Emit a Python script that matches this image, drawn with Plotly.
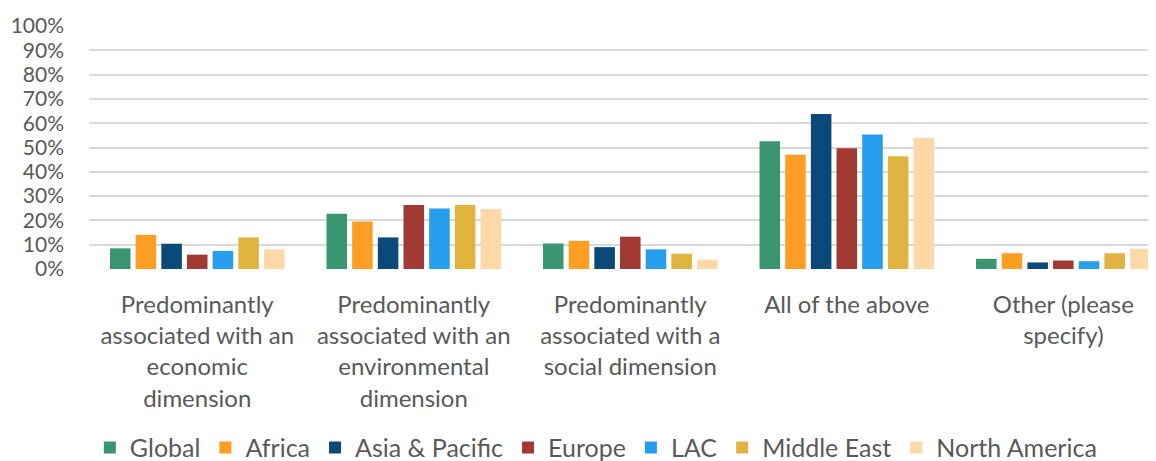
import plotly.graph_objects as go

categories = [
    "Predominantly<br>associated with an<br>economic<br>dimension",
    "Predominantly<br>associated with an<br>environmental<br>dimension",
    "Predominantly<br>associated with a<br>social dimension",
    "All of the above",
    "Other (please<br>specify)",
]

series_names = ["Global", "Africa", "Asia & Pacific", "Europe", "LAC", "Middle East", "North America"]

global_vals = [0.085, 0.227, 0.105, 0.526, 0.042]
africa_vals = [0.140, 0.195, 0.116, 0.470, 0.065]
asia_vals = [0.104, 0.130, 0.090, 0.638, 0.027]
europe_vals = [0.059, 0.263, 0.133, 0.497, 0.035]
lac_vals = [0.074, 0.249, 0.081, 0.553, 0.032]
middle_east_vals = [0.130, 0.263, 0.063, 0.464, 0.065]
north_america_vals = [0.081, 0.247, 0.038, 0.540, 0.083]

series_values = [global_vals, africa_vals, asia_vals, europe_vals, lac_vals,
                 middle_east_vals, north_america_vals]
colors = ["#3A9670", "#FF9E24", "#0B4A78", "#A23A33", "#279DEE", "#E0B43F", "#FED8A6"]

tick_vals = [i / 10 for i in range(11)]
tick_text = [f"{i * 10}%" for i in range(11)]

FONT = "Lato, 'Open Sans', sans-serif"
TXT = "#595959"

fig = go.Figure()
for name, vals, col in zip(series_names, series_values, colors):
    fig.add_trace(go.Bar(
        name=name,
        x=list(range(len(categories))),
        y=vals,
        marker=dict(color=col, line=dict(width=0)),
    ))

fig.update_layout(
    width=1148,
    height=453,
    barmode="group",
    bargap=0.17,
    bargroupgap=0.2,
    plot_bgcolor="white",
    paper_bgcolor="white",
    font=dict(family=FONT, size=24, color=TXT),
    margin=dict(l=81, r=0, t=17.5, b=191.5, autoexpand=False),
    showlegend=True,
    legend=dict(
        orientation="h",
        x=0.475,
        xanchor="center",
        y=-0.736,
        yanchor="middle",
        font=dict(family=FONT, size=25, color=TXT),
        bgcolor="rgba(0,0,0,0)",
    ),
    xaxis=dict(
        tickmode="array",
        tickvals=list(range(len(categories))),
        ticktext=categories,
        range=[-0.5, 4.428],
        showgrid=False,
        zeroline=False,
        showline=False,
        ticks="",
        tickfont=dict(family=FONT, size=24, color=TXT),
        ticklabelstandoff=19,
    ),
    yaxis=dict(
        range=[0, 1],
        tickmode="array",
        tickvals=tick_vals,
        ticktext=tick_text,
        showgrid=True,
        gridcolor="#D9D9D9",
        gridwidth=2,
        zeroline=False,
        showline=False,
        ticks="",
        tickfont=dict(family=FONT, size=21, color=TXT),
        ticklabelstandoff=24,
    ),
)

fig.write_html("out.html")
